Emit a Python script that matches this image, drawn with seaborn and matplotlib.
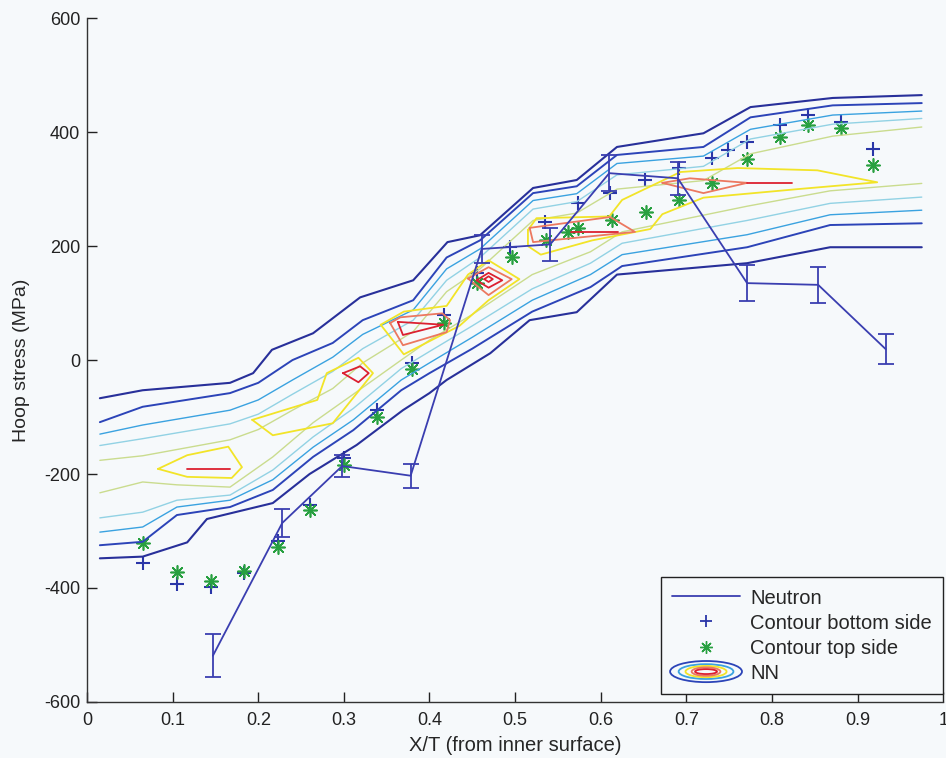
import numpy as np
import matplotlib
matplotlib.use("Agg")
import matplotlib.pyplot as plt
import seaborn as sns
from matplotlib.lines import Line2D
from matplotlib.patches import Ellipse
from matplotlib.legend_handler import HandlerBase

# --- neutron measurements (with error bars) ---
neutron_x = [0.147, 0.228, 0.298, 0.378, 0.461, 0.541, 0.610, 0.690, 0.771, 0.854, 0.933]
neutron_y = [-519, -286, -186, -203, 195, 203, 328, 319, 135, 132, 19]
neutron_err = [38, 25, 19, 21, 25, 29, 32, 29, 32, 31, 26]

# --- contour method, bottom side (+) ---
bottom_x = [0.065, 0.105, 0.145, 0.183, 0.223, 0.26, 0.30, 0.339, 0.379, 0.417, 0.456, 0.494,
            0.535, 0.574, 0.611, 0.652, 0.692, 0.730, 0.749, 0.771, 0.81, 0.842, 0.881, 0.918]
bottom_y = [-356, -393, -398, -373, -318, -254, -172, -88, -5, 79, 153, 198,
            242, 275, 294, 316, 337, 354, 368, 383, 412, 430, 418, 370]

# --- contour method, top side (*) ---
top_x = [0.065, 0.105, 0.145, 0.183, 0.223, 0.26, 0.30, 0.339, 0.379, 0.417, 0.456, 0.496,
         0.536, 0.562, 0.574, 0.613, 0.653, 0.692, 0.730, 0.771, 0.81, 0.842, 0.881, 0.918]
top_y = [-321, -372, -388, -370, -328, -263, -184, -100, -16, 65, 135, 181,
         210, 224, 232, 245, 260, 281, 310, 352, 392, 412, 407, 342]

# --- NN contour bands (open contours, upper and lower branch per level) ---
up_x = [0.015, 0.065, 0.167, 0.20, 0.24, 0.287, 0.322, 0.381, 0.42, 0.459, 0.521, 0.572,
        0.619, 0.72, 0.775, 0.871, 0.975]
lo_x = [0.015, 0.065, 0.105, 0.167, 0.217, 0.264, 0.311, 0.367, 0.40, 0.45, 0.52, 0.588,
        0.625, 0.771, 0.868, 0.975]

lvl1_up_x = [0.015, 0.065, 0.167, 0.194, 0.216, 0.264, 0.319, 0.381, 0.421, 0.459, 0.521,
             0.572, 0.619, 0.720, 0.775, 0.871, 0.975]
lvl1_up_y = [-67, -53, -40, -23, 18, 47, 110, 140, 207, 219, 302, 316, 374, 398, 444, 460, 465]
lvl1_lo_x = [0.015, 0.065, 0.117, 0.14, 0.217, 0.26, 0.315, 0.369, 0.40, 0.42, 0.471, 0.517,
             0.572, 0.619, 0.771, 0.868, 0.975]
lvl1_lo_y = [-348, -345, -320, -279, -251, -200, -149, -88, -58, -35, 12, 70, 84, 150, 170, 198, 198]

lvl2_up_y = [-109, -82, -58, -40, 0, 30, 70, 105, 180, 210, 293, 305, 360, 374, 426, 447, 451]
lvl2_lo_y = [-325, -319, -272, -258, -228, -170, -123, -53, -23, 20, 85, 128, 165, 198, 237, 240]
lvl3_up_y = [-130, -114, -88, -70, -35, 5, 45, 88, 160, 195, 280, 292, 345, 358, 405, 430, 437]
lvl3_lo_y = [-302, -293, -258, -246, -210, -153, -105, -35, -5, 40, 105, 150, 185, 220, 255, 263]
lvl4_up_y = [-150, -138, -112, -95, -60, -20, 20, 70, 140, 180, 265, 278, 325, 340, 388, 414, 424]
lvl4_lo_y = [-277, -267, -246, -237, -193, -135, -85, -15, 15, 60, 125, 170, 205, 245, 275, 286]
lvl5_up_y = [-176, -168, -140, -122, -88, -50, -5, 50, 120, 160, 245, 258, 300, 315, 362, 393, 409]
lvl5_lo_y = [-233, -214, -219, -223, -170, -110, -60, 0, 35, 80, 150, 190, 225, 270, 297, 310]

# --- NN closed contours (islands): yellow, orange, red ---
yellow_1 = [(0.083, -191), (0.117, -167), (0.165, -152), (0.181, -188), (0.169, -207), (0.117, -205), (0.083, -191)]
yellow_2 = [(0.193, -105), (0.269, -70), (0.280, -23), (0.317, 4), (0.334, -23), (0.287, -111), (0.217, -132), (0.193, -105)]
yellow_3 = [(0.343, 62), (0.37, 85), (0.42, 95), (0.445, 150), (0.469, 175), (0.505, 142), (0.469, 105),
            (0.435, 60), (0.37, 10), (0.343, 62)]
yellow_4 = [(0.515, 228), (0.525, 249), (0.61, 252), (0.625, 281), (0.693, 330), (0.76, 337), (0.853, 333),
            (0.923, 312), (0.83, 300), (0.72, 285), (0.672, 256), (0.658, 230), (0.59, 210), (0.53, 185),
            (0.515, 200), (0.515, 228)]
orange_1 = [(0.354, 65), (0.366, 75), (0.415, 82), (0.424, 70), (0.42, 49), (0.369, 26), (0.354, 65)]
orange_2 = [(0.445, 143), (0.469, 163), (0.496, 142), (0.469, 114), (0.445, 143)]
orange_3 = [(0.517, 232), (0.611, 251), (0.64, 225), (0.521, 207), (0.517, 232)]
orange_4 = [(0.672, 311), (0.704, 319), (0.771, 311), (0.72, 293), (0.672, 311)]
red_1 = [(0.117, -191), (0.167, -191)]
red_2 = [(0.299, -23), (0.319, -11), (0.329, -23), (0.317, -39), (0.299, -23)]
red_3 = [(0.363, 67), (0.416, 62), (0.369, 44), (0.363, 67)]
red_4 = [(0.455, 140), (0.469, 153), (0.485, 140), (0.469, 127), (0.455, 140)]
red_5 = [(0.464, 142), (0.469, 147), (0.474, 142), (0.469, 137), (0.464, 142)]
red_6 = [(0.565, 225), (0.62, 225)]
red_7 = [(0.771, 311), (0.824, 311)]

c_navy = "#28309a"
c_blue = "#2c44b8"
c_sky = "#3aa2e0"
c_lcyan = "#92d2e4"
c_ygreen = "#cadc8e"
c_yellow = "#f2e428"
c_orange = "#ec7860"
c_red = "#dc2030"
c_neutron = "#3a3eb0"
c_plus = "#2a36a8"
c_star = "#28a040"
bg = "#f6f9fb"

sns.set_style("ticks")
plt.rcParams["font.family"] = ["Liberation Sans", "DejaVu Sans"]
plt.rcParams["axes.unicode_minus"] = False

fig = plt.figure(figsize=(9.46, 7.58), dpi=100)
fig.patch.set_facecolor(bg)
ax = fig.add_axes([0.092, 0.074, 0.905, 0.902])
ax.set_facecolor(bg)


def band(xs, ys, color, lw=1.0):
    sns.lineplot(x=xs, y=ys, sort=False, estimator=None, color=color, lw=lw, ax=ax)


band(lvl1_up_x, lvl1_up_y, c_navy, 1.5)
band(lvl1_lo_x, lvl1_lo_y, c_navy, 1.5)
band(up_x, lvl2_up_y, c_blue, 1.4)
band(lo_x, lvl2_lo_y, c_blue, 1.4)
band(up_x, lvl3_up_y, c_sky)
band(lo_x, lvl3_lo_y, c_sky)
band(up_x, lvl4_up_y, c_lcyan)
band(lo_x, lvl4_lo_y, c_lcyan)
band(up_x, lvl5_up_y, c_ygreen)
band(lo_x, lvl5_lo_y, c_ygreen)

for poly in [yellow_1, yellow_2, yellow_3, yellow_4]:
    band([p[0] for p in poly], [p[1] for p in poly], c_yellow, 1.3)
for poly in [orange_1, orange_2, orange_3, orange_4]:
    band([p[0] for p in poly], [p[1] for p in poly], c_orange, 1.3)
for poly in [red_1, red_2, red_3, red_4, red_5, red_6, red_7]:
    band([p[0] for p in poly], [p[1] for p in poly], c_red, 1.3)

# neutron data
ax.errorbar(neutron_x, neutron_y, yerr=neutron_err, color=c_neutron, lw=1.3,
            capsize=6, capthick=1.3, elinewidth=1.3)

sns.scatterplot(x=bottom_x, y=bottom_y, marker="+", s=95, color=c_plus,
                linewidth=1.5, ax=ax)
sns.scatterplot(x=top_x, y=top_y, marker=(8, 2, 0), s=90, color=c_star,
                linewidth=1.2, ax=ax)

ax.set_xlim(0, 1)
ax.set_ylim(-600, 600)
ax.set_xticks(np.arange(0, 1.01, 0.1))
ax.set_xticklabels(["0", "0.1", "0.2", "0.3", "0.4", "0.5", "0.6", "0.7", "0.8", "0.9", "1"])
ax.set_yticks(np.arange(-600, 601, 200))
ax.tick_params(direction="in", length=7, width=1, labelsize=13, colors="#222222")
ax.tick_params(axis="x", pad=7)
ax.tick_params(axis="y", pad=5)
for s in ["top", "right"]:
    ax.spines[s].set_visible(False)
for s in ["left", "bottom"]:
    ax.spines[s].set_color("#333333")
    ax.spines[s].set_linewidth(1.0)
ax.set_xlabel("X/T (from inner surface)", fontsize=14.5, labelpad=5)
ax.set_ylabel("Hoop stress (MPa)", fontsize=14, labelpad=10)


class NNHandler(HandlerBase):
    def create_artists(self, legend, orig_handle, xdescent, ydescent, width, height, fontsize, trans):
        cx = width / 2 - xdescent
        cy = height / 2 - ydescent
        out = []
        for w, h, c in [(width * 1.05, height * 1.5, c_blue), (width * 0.8, height * 1.05, c_sky),
                        (width * 0.6, height * 0.8, c_yellow), (width * 0.42, height * 0.6, c_orange),
                        (width * 0.32, height * 0.35, c_red)]:
            e = Ellipse((cx, cy), w, h, fill=False, edgecolor=c, lw=1.3, transform=trans)
            out.append(e)
        return out


class NNProxy:
    pass


handles = [
    Line2D([], [], color=c_neutron, lw=1.3),
    Line2D([], [], color=c_plus, marker="+", ls="none", ms=9, mew=1.3),
    Line2D([], [], color=c_star, marker=(8, 2, 0), ls="none", ms=9, mew=1.0),
    NNProxy(),
]
labels = ["Neutron", "Contour bottom side", "Contour top side", "NN"]
leg = ax.legend(handles, labels, handler_map={NNProxy: NNHandler()},
                loc="lower right", bbox_to_anchor=(1.0, 0.012), fontsize=14.5,
                frameon=True, fancybox=False, edgecolor="#222222", framealpha=1,
                facecolor=bg, handlelength=3.4, handletextpad=0.5,
                labelspacing=0.3, borderpad=0.55, borderaxespad=0)
leg.get_frame().set_linewidth(1.0)

fig.savefig("out.png", dpi=100, facecolor=fig.get_facecolor())
